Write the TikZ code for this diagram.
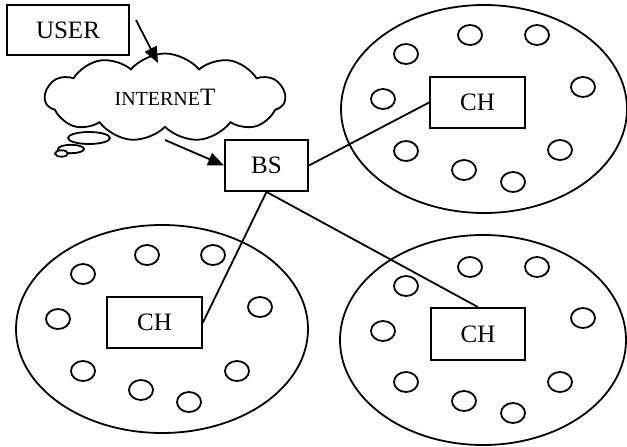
\documentclass[tikz,border=0pt]{standalone}
\usepackage{fontspec}
\setmainfont{Liberation Serif}
\usetikzlibrary{shapes.symbols,arrows.meta}
\begin{document}
\begin{tikzpicture}[x=1pt,y=-1pt,line width=1.8pt,
  box/.style={draw,rectangle,inner sep=0pt,font=\fontsize{25}{25}\selectfont},
  arr/.style={-{Triangle[length=16pt,width=13pt]}},
  big/.style={draw,line width=1.8pt},
  dot/.style={draw,line width=1.8pt}]
\useasboundingbox (0,0) rectangle (627,447);
% clusters
\draw[big] (484,109) ellipse (143 and 104);
\draw[big] (162,329) ellipse (146 and 104);
\draw[big] (483,340) ellipse (143 and 105);
% small nodes
\foreach \p in {(470,35),(537,35),(406,54),(383,99),(583,87),(406,151),(464,170),(513,182),(560,150),
                (147,255),(213,255),(83,274),(58,319),(260,307),(83,371),(141,390),(189,402),(237,371),
                (470,267),(537,267),(406,286),(383,331),(583,318),(406,382),(464,401),(513,413),(560,382)}
  \draw[dot] \p ellipse (12 and 10);
% cloud
\node[cloud,draw,fill=white,cloud puffs=11,cloud puff arc=100,aspect=2.8,
      minimum width=240pt,minimum height=88pt,inner sep=0pt] (cloud) at (165,97.5)
  {\raisebox{-6pt}{\fontsize{20}{20}\selectfont INTERNE\fontsize{25}{25}\selectfont T}};
\draw[dot,fill=white] (89,138) ellipse (21 and 6);
\draw[dot,fill=white] (71,149) ellipse (13 and 4.2);
\draw[dot,fill=white] (61.5,153.5) ellipse (6.5 and 3.2);
% boxes
\node[box,minimum width=122pt,minimum height=50pt] (user) at (68,30) {USER};
\node[box,minimum width=83pt,minimum height=51pt] (bs) at (266.5,165.5) {BS};
\node[box,fill=white,minimum width=95pt,minimum height=51pt] (ch1) at (477.5,102.5) {CH};
\node[box,fill=white,minimum width=95pt,minimum height=51pt] (ch2) at (154.5,322.5) {CH};
\node[box,fill=white,minimum width=94pt,minimum height=52pt] (ch3) at (478,334) {CH};
% connectors
\coordinate (ustart) at (136,20);
\coordinate (cin) at (158,63);
\coordinate (cout) at (165,140);
\draw[arr] (ustart) -- (cin);
\draw[arr] (cout) -- (bs.west);
\draw (bs.east) -- (ch1.west);
\draw (bs.south) -- (ch2.east);
\draw (bs.south) -- (ch3.north);
\end{tikzpicture}
\end{document}
